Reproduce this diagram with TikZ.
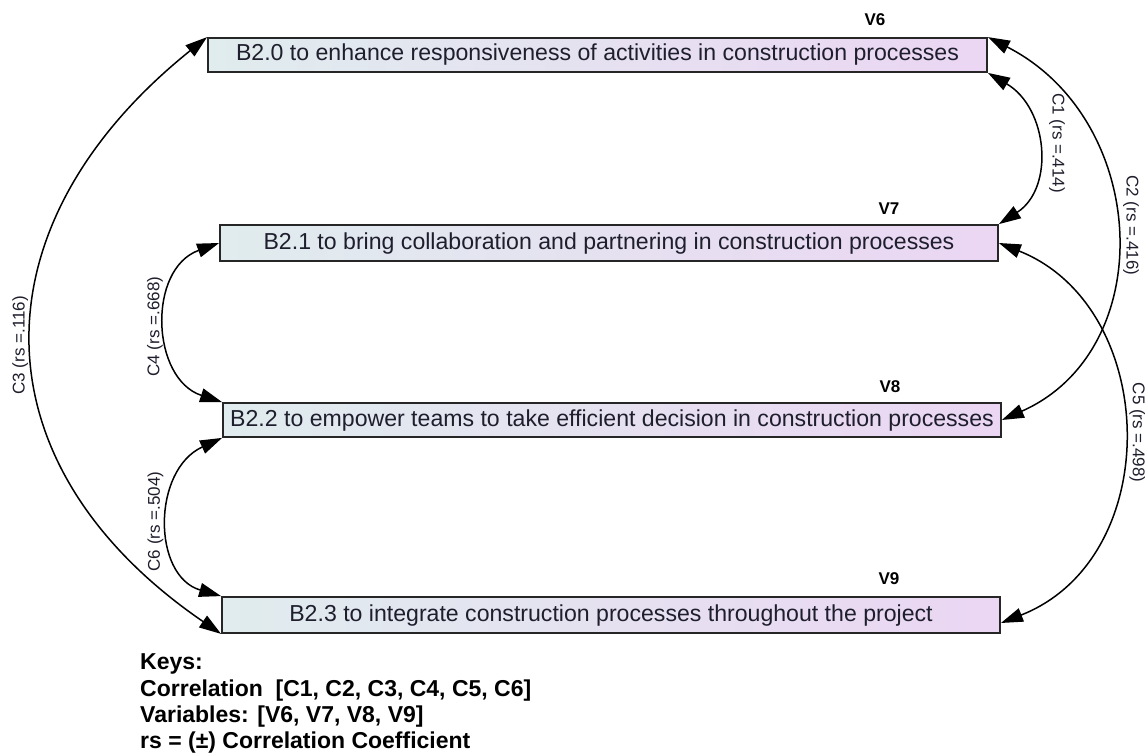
\documentclass[tikz,border=0pt]{standalone}
\usepackage{fontspec}
\setmainfont{Liberation Sans}
\usetikzlibrary{arrows.meta,calc}
\definecolor{boxl}{RGB}{224,236,238}
\definecolor{boxr}{RGB}{235,214,243}
\definecolor{txt}{RGB}{30,30,45}
\begin{document}
\begin{tikzpicture}[x=1pt,y=-1pt,
  varbox/.style={draw=black!85, line width=1.8pt, left color=boxl, right color=boxr,
    minimum width=778pt, minimum height=35pt, inner sep=0pt, text height=16.5pt, text depth=4.5pt,
    font=\fontsize{23.1}{26}\selectfont, text=txt},
  vlab/.style={font=\bfseries\fontsize{17}{20}\selectfont, inner sep=0pt},
  corr/.style={line width=1.5pt, {Triangle[length=22pt,width=14pt]}-{Triangle[length=22pt,width=14pt]}},
  clab/.style={font=\fontsize{17}{20}\selectfont, text=txt, inner sep=0pt},
  keytxt/.style={font=\bfseries\fontsize{23}{26}\selectfont, anchor=base west, inner sep=0pt}
]
\useasboundingbox (0,0) rectangle (1145,754);

\node[varbox, minimum width=779pt, minimum height=34pt] (b0) at (597.5,55) {B2.0 to enhance responsiveness of activities in construction processes};
\node[varbox, minimum height=36pt] (b1) at (609,243) {B2.1 to bring collaboration and partnering in construction processes};
\node[varbox, minimum height=34pt] (b2) at (612,420) {B2.2 to empower teams to take efficient decision in construction processes};
\node[varbox, minimum height=36pt] (b3) at (611,615) {B2.3 to integrate construction processes throughout the project};

\node[vlab] (v6) at ($(b0.north east)+(-113,-17)$) {V6};
\node[vlab] (v7) at ($(b1.north east)+(-110,-15)$) {V7};
\node[vlab] (v8) at ($(b2.north east)+(-112,-15)$) {V8};
\node[vlab] (v9) at ($(b3.north east)+(-112,-17)$) {V9};

% right side
\draw[corr] (b0.south east) .. controls (1048,108) and (1055,188) .. (b1.north east)
  node[pos=0.5, clab, xshift=20pt, yshift=5pt, rotate=-90] (l1) {C1 (rs =.414)};
\draw[corr] (b0.north east) .. controls (1150,120) and (1160,350) .. (b2.east)
  node[pos=0.5, clab, xshift=16pt, yshift=8pt, rotate=-90] (l2) {C2 (rs =.416)};
\draw[corr] (b1.east) .. controls (1160,307) and (1166,558) .. ([yshift=-8pt]b3.east)
  node[pos=0.5, clab, xshift=15pt, rotate=-90] (l5) {C5 (rs =.498)};

% left side
\draw[corr] (b0.north west) .. controls (-27,225) and (-27,464) .. (b3.south west)
  node[pos=0.5, clab, xshift=-13pt, yshift=-3pt, rotate=90] (l3) {C3 (rs =.116)};
\draw[corr] (b1.west) .. controls (147,269) and (151,379) .. (b2.north west)
  node[pos=0.5, clab, xshift=-12pt, yshift=-3pt, rotate=90] (l4) {C4 (rs =.668)};
\draw[corr] (b2.south west) .. controls (152,470) and (152,576) .. (b3.north west)
  node[pos=0.5, clab, xshift=-14pt, rotate=90] (l6) {C6 (rs =.504)};

% keys
\node[keytxt] (k1) at (140,669) {Keys:};
\node[keytxt] (k2) at (140,696) {Correlation\ \ [C1, C2, C3, C4, C5, C6]};
\node[keytxt] (k3) at (140,722) {Variables: [V6, V7, V8, V9]};
\node[keytxt] (k4) at (140,748) {rs = (±) Correlation Coefficient};
\end{tikzpicture}
\end{document}
